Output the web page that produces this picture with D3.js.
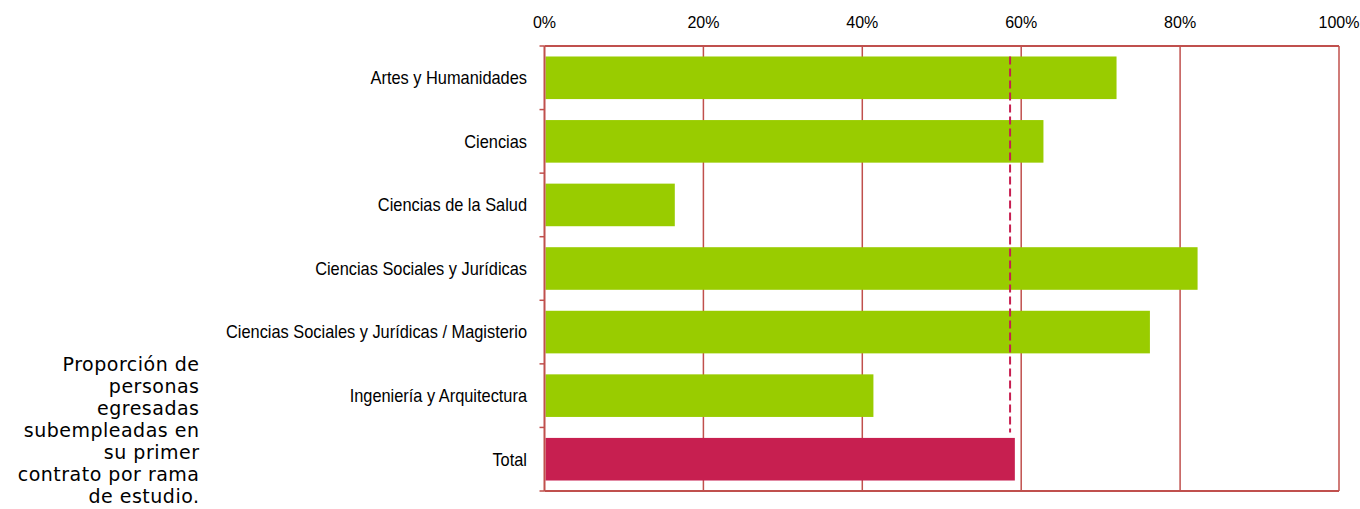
<!DOCTYPE html>
<html>
<head>
<meta charset="utf-8">
<script src="https://cdn.jsdelivr.net/npm/d3@7"></script>
<style>
  body { margin: 0; background: #fff; }
  svg { display: block; }
</style>
</head>
<body>
<svg id="chart"></svg>
<script>
// data
var categories = ["Artes y Humanidades", "Ciencias", "Ciencias de la Salud",
  "Ciencias Sociales y Jurídicas", "Ciencias Sociales y Jurídicas / Magisterio",
  "Ingeniería y Arquitectura", "Total"];
var values = [0.72, 0.628, 0.164, 0.822, 0.762, 0.414, 0.592];
var averageValue = 0.586;
var tickValues = [0, 0.2, 0.4, 0.6, 0.8, 1];
var noteLines = ["Proporción de", "personas", "egresadas", "subempleadas en",
  "su primer", "contrato por rama", "de estudio."];

var width = 1360, height = 509;
var margin = {top: 46, right: 21, bottom: 18, left: 544.5};
var red = "#c0504d";

var svg = d3.select("#chart").attr("width", width).attr("height", height);

var x = d3.scaleLinear().domain([0, 1]).range([margin.left, width - margin.right]);
var y = d3.scaleBand().domain(categories).range([margin.top, height - margin.bottom]).padding(0);

// grid lines
svg.selectAll(".grid")
  .data(tickValues.slice(1))
  .enter().append("line")
    .attr("x1", d => x(d)).attr("x2", d => x(d))
    .attr("y1", margin.top).attr("y2", height - margin.bottom)
    .attr("stroke", red).attr("stroke-width", 1.5);

// top and bottom borders
[margin.top, height - margin.bottom].forEach(function(yy){
  svg.append("line")
    .attr("x1", x(0)).attr("x2", x(1))
    .attr("y1", yy).attr("y2", yy)
    .attr("stroke", red).attr("stroke-width", 2);
});

// bars
var barH = y.bandwidth() * 0.67;
svg.selectAll(".bar")
  .data(categories)
  .enter().append("rect")
    .attr("x", x(0) + 1)
    .attr("y", d => y(d) + (y.bandwidth() - barH) / 2)
    .attr("width", (d, i) => x(values[i]) - x(0) - 1)
    .attr("height", barH)
    .attr("fill", d => d == "Total" ? "#c71f50" : "#99cc00");

// average dashed line
svg.append("line")
  .attr("x1", x(averageValue)).attr("x2", x(averageValue))
  .attr("y1", y(categories[0]) + (y.bandwidth() - barH) / 2)
  .attr("y2", y("Total") + 5)
  .attr("stroke", "#c71f50").attr("stroke-width", 2)
  .attr("stroke-dasharray", "8,4");

// left axis with boundary ticks
svg.append("line")
  .attr("x1", x(0)).attr("x2", x(0))
  .attr("y1", margin.top).attr("y2", height - margin.bottom)
  .attr("stroke", red).attr("stroke-width", 2);
var bounds = categories.map(d => y(d)).concat([height - margin.bottom]);
svg.selectAll(".ytick")
  .data(bounds)
  .enter().append("line")
    .attr("x1", x(0) - 5).attr("x2", x(0))
    .attr("y1", d => d).attr("y2", d => d)
    .attr("stroke", red).attr("stroke-width", 1.5);

// category labels (narrow look: regular sans squeezed horizontally)
svg.selectAll(".lab")
  .data(categories)
  .enter().append("text")
    .attr("transform", d => "translate(527," + (y(d) + y.bandwidth() / 2) + ") scale(0.91,1)")
    .attr("dy", "0.35em")
    .attr("text-anchor", "end")
    .style("font-family", "'Liberation Sans', Arial, sans-serif")
    .style("font-size", "18px")
    .style("fill", "#000")
    .text(d => d);

// top tick labels
svg.selectAll(".xlab")
  .data(tickValues)
  .enter().append("text")
    .attr("x", d => x(d))
    .attr("y", 28)
    .attr("text-anchor", "middle")
    .style("font-family", "'Liberation Sans', Arial, sans-serif")
    .style("font-size", "16px")
    .text(d => d3.format(".0%")(d));

// side note
svg.append("text")
  .attr("text-anchor", "end")
  .style("font-family", "'DejaVu Sans', Verdana, sans-serif")
  .style("font-size", "19px")
  .style("letter-spacing", "0.5px")
  .selectAll("tspan")
  .data(noteLines)
  .enter().append("tspan")
    .attr("x", 199.5)
    .attr("y", (d, i) => 371 + i * 22)
    .text(d => d);
</script>
</body>
</html>
